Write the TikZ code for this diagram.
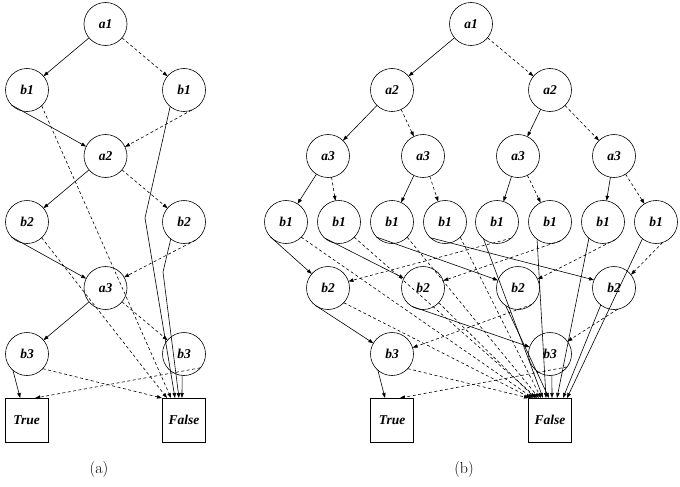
\documentclass[tikz,border=0pt]{standalone}
\usepackage{fontspec}
\newfontfamily\lblfont{Liberation Serif}
\usetikzlibrary{arrows.meta,calc}
\begin{document}
\begin{tikzpicture}[x=1pt,y=-1pt,
  lbl/.style={font=\lblfont\bfseries\itshape\fontsize{13.5}{15}\selectfont},
  cn/.style={circle,draw,line width=0.6pt,minimum size=43pt,inner sep=0pt,outer sep=0pt,lbl},
  bx/.style={rectangle,draw,line width=0.6pt,minimum width=43pt,minimum height=44pt,inner sep=0pt,outer sep=0pt,lbl},
  hi/.style={line width=0.6pt,-{Triangle[length=5pt,width=3.5pt]}},
  lo/.style={hi,dash pattern=on 3pt off 2.5pt},
  captxt/.style={font=\fontsize{16}{18}\selectfont}
]
\useasboundingbox (0,0) rectangle (680,487);

% ---------- (a) ----------
\node[cn] (aa1) at (105.5,24) {a1};
\node[cn] (ab1L) at (27,90) {b1};
\node[cn] (ab1R) at (184,90) {b1};
\node[cn] (aa2) at (105.5,156) {a2};
\node[cn] (ab2L) at (27,222) {b2};
\node[cn] (ab2R) at (184,222) {b2};
\node[cn] (aa3) at (105.5,288) {a3};
\node[cn] (ab3L) at (27,354) {b3};
\node[cn] (ab3R) at (184,354) {b3};
\node[bx] (aT) at (26.7,420) {True};
\node[bx] (aF) at (184,420) {False};
\node[captxt] (capa) at (99,470) {(a)};

\draw[hi] (aa1) -- (ab1L);
\draw[lo] (aa1) -- (ab1R);
\draw[hi] (ab1L.-135) -- (aa2.154);
\draw[lo] (ab1L.-47) -- ($(aF.north)+(-13,0)$);
\draw[lo] (ab1R.-69) -- (aa2.25);
\draw[hi] (ab1R.-130) -- (145,218) -- ($(aF.north)+(-9,0)$);
\draw[hi] (aa2) -- (ab2L);
\draw[lo] (aa2) -- (ab2R);
\draw[hi] (ab2L.-135) -- (aa3.154);
\draw[lo] (ab2L.-47) -- ($(aF.north)+(-17,0)$);
\draw[lo] (ab2R.-58) -- (aa3.30);
\draw[hi] (ab2R.-128) -- (163,272) -- ($(aF.north)+(-5,0)$);
\draw[hi] (aa3) -- (ab3L);
\draw[lo] (aa3) -- (ab3R);
\draw[hi] (ab3L.-131) -- ($(aT.north)+(-6.5,0)$);
\draw[lo] (ab3L.-43) -- ($(aF.north)+(-22,0)$);
\draw[lo] (ab3R.-40) -- ($(aT.north)+(8.5,0)$);
\draw[hi] (ab3R.-95) -- ($(aF.north)+(-2,0)$);

% ---------- (b) ----------
\node[cn] (ba1) at (471,24) {a1};
\node[cn] (ba2L) at (392,90) {a2};
\node[cn] (ba2R) at (550,90) {a2};
\node[cn] (ba31) at (328,156) {a3};
\node[cn] (ba32) at (423,156) {a3};
\node[cn] (ba33) at (518,156) {a3};
\node[cn] (ba34) at (614,156) {a3};
\node[cn] (bb11) at (286,222) {b1};
\node[cn] (bb12) at (339,222) {b1};
\node[cn] (bb13) at (392,222) {b1};
\node[cn] (bb14) at (445,222) {b1};
\node[cn] (bb15) at (497,222) {b1};
\node[cn] (bb16) at (550,222) {b1};
\node[cn] (bb17) at (603,222) {b1};
\node[cn] (bb18) at (656,222) {b1};
\node[cn] (bb21) at (328,288) {b2};
\node[cn] (bb22) at (423,288) {b2};
\node[cn] (bb23) at (518,288) {b2};
\node[cn] (bb24) at (614,288) {b2};
\node[cn] (bb3L) at (392,354) {b3};
\node[cn] (bb3R) at (550,354) {b3};
\node[bx] (bT) at (392,420) {True};
\node[bx] (bF) at (550,420) {False};
\node[captxt] (capb) at (464,470) {(b)};

\draw[hi] (ba1) -- (ba2L);
\draw[lo] (ba1) -- (ba2R);
\draw[hi] (ba2L) -- (ba31);
\draw[lo] (ba2L) -- (ba32);
\draw[hi] (ba2R) -- (ba33);
\draw[lo] (ba2R) -- (ba34);
\draw[hi] (ba31) -- (bb11);
\draw[lo] (ba31) -- (bb12);
\draw[hi] (ba32) -- (bb13);
\draw[lo] (ba32) -- (bb14);
\draw[hi] (ba33) -- (bb15);
\draw[lo] (ba33) -- (bb16);
\draw[hi] (ba34) -- (bb17);
\draw[lo] (ba34) -- (bb18);

\draw[hi] (bb11.-135) -- (bb21.139);
\draw[lo] (bb11.-45) -- ($(bF.north)+(-17,0)$);
\draw[hi] (bb12.-131) -- (bb22.153);
\draw[lo] (bb12.-45) -- ($(bF.north)+(-13,0)$);
\draw[hi] (bb13.-135) -- (bb23.159);
\draw[lo] (bb13.-45) -- ($(bF.north)+(-11,0)$);
\draw[hi] (bb14.-133) -- (bb24.158);
\draw[lo] (bb14.-45) -- ($(bF.north)+(-9,0)$);
\draw[hi] (bb15.-129) -- ($(bF.north)+(-7,0)$);
\draw[lo] (bb15.-49) -- (bb21.18);
\draw[hi] (bb16.-127) -- ($(bF.north)+(-4,0)$);
\draw[lo] (bb16.-62) -- (bb22.20);
\draw[hi] (bb17.-131) -- ($(bF.north)+(7,0)$);
\draw[lo] (bb17.-54) -- (bb23.24);
\draw[hi] (bb18.-129) -- ($(bF.north)+(17,0)$);
\draw[lo] (bb18.-72) -- (bb24.38);

\draw[hi] (bb21.-126) -- (bb3L.150);
\draw[lo] (bb21.-43) -- ($(bF.north)+(-19,0)$);
\draw[hi] (bb22.-121) -- (bb3R.161);
\draw[lo] (bb22.-43) -- ($(bF.north)+(-15,0)$);
\draw[hi] (bb23.-125) -- ($(bF.north)+(-1,0)$);
\draw[lo] (bb23.-50) -- (bb3L.17);
\draw[hi] (bb24.-128) -- ($(bF.north)+(13,0)$);
\draw[lo] (bb24.-80) -- (bb3R.36);

\draw[hi] (bb3L.-131) -- ($(bT.north)+(-7,0)$);
\draw[lo] (bb3L.-43) -- ($(bF.north)+(-21,0)$);
\draw[lo] (bb3R.-37) -- ($(bT.north)+(8,0)$);
\draw[hi] (bb3R.-85) -- ($(bF.north)+(2,0)$);
\end{tikzpicture}
\end{document}
